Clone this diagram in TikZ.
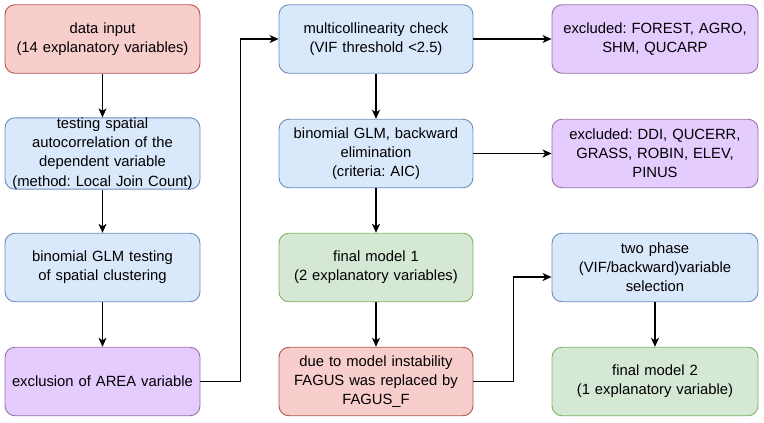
\documentclass[tikz,border=0pt]{standalone}
\usepackage{fontspec}
\setmainfont{Liberation Sans}
\frenchspacing
\usetikzlibrary{arrows.meta,calc}
\definecolor{redF}{HTML}{F8CECC}\definecolor{redD}{HTML}{B85450}
\definecolor{bluF}{HTML}{DAE8FC}\definecolor{bluD}{HTML}{6C8EBF}
\definecolor{grnF}{HTML}{D5E8D4}\definecolor{grnD}{HTML}{82B366}
\definecolor{purF}{HTML}{E5CCFF}\definecolor{purD}{HTML}{9673A6}
\tikzset{
  box/.style={rounded corners=10pt, line width=0.9pt, align=center,
    inner sep=0pt, minimum height=68.5pt,
    font=\fontsize{14.8}{19.2}\selectfont\frenchspacing},
  c1/.style={box, minimum width=195pt, text width=193pt},
  c2/.style={box, minimum width=194pt, text width=192pt},
  c3/.style={box, minimum width=206pt, text width=202pt},
  redbox/.style={fill=redF, draw=redD},
  blubox/.style={fill=bluF, draw=bluD},
  grnbox/.style={fill=grnF, draw=grnD},
  purbox/.style={fill=purF, draw=purD},
  arr/.style={-{Stealth[length=9pt,width=8pt,inset=2.5pt]}, line width=1.2pt, black}
}
\begin{document}
\begin{tikzpicture}[x=1pt,y=-1pt]
\useasboundingbox[fill=white] (0,0) rectangle (764,423);
% column 1
\node[c1,redbox] (data) at (102.5,39) {data input\\(14 explanatory variables)};
\node[c1,blubox] (test) at (102.5,153.5) {testing spatial\\autocorrelation of the\\dependent variable\\(method: Local Join Count)};
\node[c1,blubox] (glmt) at (102.5,267.5) {binomial GLM testing\\of spatial clustering};
\node[c1,purbox] (excl) at (102.5,381.5) {exclusion of AREA variable};
% column 2
\node[c2,blubox] (multi) at (376,39) {multicollinearity check\\(VIF threshold <2.5)};
\node[c2,blubox] (back) at (376,153.5) {binomial GLM, backward\\elimination\\(criteria: AIC)};
\node[c2,grnbox] (fin1) at (376,267.5) {final model 1\\(2 explanatory variables)};
\node[c2,redbox] (due) at (376,381.5) {due to model instability\\FAGUS was replaced by\\FAGUS\_F};
% column 3
\node[c3,purbox] (exa) at (655,39) {excluded: FOREST, AGRO,\\SHM, QUCARP};
\node[c3,purbox] (exb) at (655,153.5) {excluded: DDI, QUCERR,\\GRASS, ROBIN, ELEV,\\PINUS};
\node[c3,blubox] (two) at (655,267.5) {two phase\\(VIF/backward)variable\\selection};
\node[c3,grnbox] (fin2) at (655,381.5) {final model 2\\(1 explanatory variable)};
% connectors
\draw[arr] (data) -- (test);
\draw[arr] (test) -- (glmt);
\draw[arr] (glmt) -- (excl);
\draw[arr] (excl.east) -- ++(40,0) |- (multi.west);
\draw[arr] (multi) -- (back);
\draw[arr] (back) -- (fin1);
\draw[arr] (fin1) -- (due);
\draw[arr] (multi) -- (exa);
\draw[arr] (back) -- (exb);
\coordinate (twoin) at ($(two.west)+(0,9.5)$);
\draw[arr] (due.east) -- ++(40,0) |- (twoin);
\draw[arr] (two) -- (fin2);
\end{tikzpicture}
\end{document}
